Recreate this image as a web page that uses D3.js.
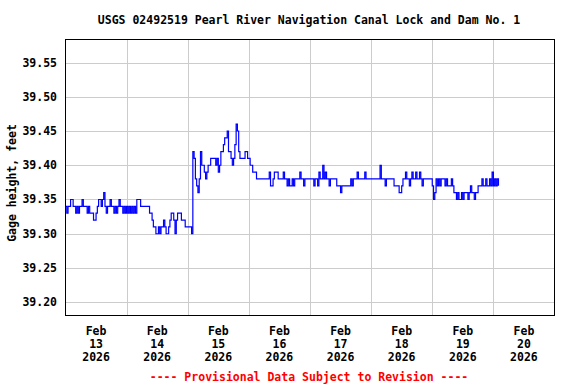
<!DOCTYPE html>
<html>
<head>
<meta charset="utf-8">
<script src="https://cdn.jsdelivr.net/npm/d3@7"></script>
<style>
  body { margin: 0; background: #fff; }
  text { font-family: "DejaVu Sans Mono", monospace; font-weight: bold; font-size: 11.5px; }
</style>
</head>
<body>
<script>
// half-hourly gage height readings (feet), starting Feb 13 2026 00:00
let feb13 = [39.34, 39.33, 39.34, 39.34, 39.35, 39.35, 39.34, 39.34, 39.33, 39.34, 39.33, 39.34,
             39.34, 39.35, 39.34, 39.34, 39.34, 39.33, 39.34, 39.33, 39.33, 39.33, 39.32, 39.32,
             39.33, 39.34, 39.35, 39.35, 39.34, 39.35, 39.36, 39.34, 39.33, 39.34, 39.34, 39.35,
             39.34, 39.34, 39.33, 39.34, 39.33, 39.34, 39.35, 39.34, 39.34, 39.33, 39.34, 39.33];
let feb14 = [39.34, 39.33, 39.34, 39.33, 39.34, 39.33, 39.34, 39.33, 39.35, 39.35, 39.35, 39.34,
             39.34, 39.34, 39.34, 39.34, 39.34, 39.34, 39.33, 39.33, 39.32, 39.31, 39.31, 39.30,
             39.30, 39.31, 39.30, 39.31, 39.31, 39.32, 39.31, 39.30, 39.30, 39.31, 39.32, 39.33,
             39.33, 39.32, 39.30, 39.32, 39.33, 39.33, 39.33, 39.32, 39.32, 39.32, 39.31, 39.31];
let feb15 = [39.31, 39.31, 39.31, 39.30, 39.42, 39.41, 39.38, 39.37, 39.36, 39.38, 39.42, 39.40,
             39.40, 39.39, 39.38, 39.39, 39.40, 39.40, 39.41, 39.41, 39.41, 39.41, 39.40, 39.41,
             39.39, 39.40, 39.42, 39.42, 39.43, 39.44, 39.44, 39.45, 39.42, 39.42, 39.41, 39.40,
             39.41, 39.43, 39.46, 39.45, 39.42, 39.41, 39.41, 39.41, 39.41, 39.42, 39.42, 39.41];
let feb16 = [39.41, 39.40, 39.40, 39.39, 39.39, 39.39, 39.38, 39.38, 39.38, 39.38, 39.38, 39.38,
             39.38, 39.38, 39.38, 39.38, 39.39, 39.37, 39.37, 39.38, 39.39, 39.39, 39.39, 39.38,
             39.38, 39.38, 39.38, 39.39, 39.38, 39.38, 39.37, 39.38, 39.37, 39.37, 39.38, 39.37,
             39.38, 39.38, 39.38, 39.38, 39.39, 39.38, 39.38, 39.37, 39.38, 39.38, 39.38, 39.38];
let feb17 = [39.38, 39.38, 39.38, 39.37, 39.38, 39.38, 39.37, 39.39, 39.38, 39.38, 39.40, 39.38,
             39.39, 39.38, 39.38, 39.37, 39.38, 39.38, 39.38, 39.38, 39.38, 39.37, 39.37, 39.37,
             39.36, 39.37, 39.37, 39.37, 39.37, 39.37, 39.37, 39.37, 39.38, 39.37, 39.38, 39.38,
             39.38, 39.39, 39.38, 39.38, 39.38, 39.38, 39.38, 39.39, 39.38, 39.38, 39.38, 39.38];
let feb18 = [39.38, 39.38, 39.38, 39.38, 39.38, 39.38, 39.38, 39.40, 39.38, 39.38, 39.38, 39.37,
             39.38, 39.38, 39.38, 39.38, 39.38, 39.38, 39.37, 39.37, 39.37, 39.37, 39.36, 39.36,
             39.37, 39.38, 39.38, 39.39, 39.38, 39.38, 39.37, 39.38, 39.39, 39.38, 39.38, 39.39,
             39.38, 39.38, 39.39, 39.38, 39.37, 39.38, 39.38, 39.38, 39.38, 39.38, 39.38, 39.38];
let feb19 = [39.37, 39.35, 39.36, 39.38, 39.37, 39.38, 39.37, 39.38, 39.38, 39.38, 39.37, 39.38,
             39.37, 39.37, 39.37, 39.38, 39.37, 39.36, 39.36, 39.35, 39.36, 39.35, 39.35, 39.36,
             39.35, 39.36, 39.36, 39.36, 39.35, 39.36, 39.37, 39.36, 39.36, 39.35, 39.36, 39.36,
             39.37, 39.37, 39.37, 39.38, 39.37, 39.37, 39.38, 39.37, 39.37, 39.38, 39.37, 39.39];
let feb20 = [39.37, 39.38, 39.37, 39.38, 39.37];

let dayLabels = ['13', '14', '15', '16', '17', '18', '19', '20'];
let yTicks = [39.20, 39.25, 39.30, 39.35, 39.40, 39.45, 39.50, 39.55];

let width = 576;
let height = 384;
let plotLeft = 65.5, plotRight = 554.5, plotTop = 39.5, plotBottom = 315.5;

let start = Date.UTC(2026, 1, 13);
let hour = 3600 * 1000;
let step = hour / 2;
let values = [].concat(feb13, feb14, feb15, feb16, feb17, feb18, feb19, feb20);
let data = values.map((v, i) => ({t: new Date(start + i * step), v: v}));

let svg = d3.select('body').append('svg')
    .attr('width', width)
    .attr('height', height);

let x = d3.scaleUtc()
    .domain([new Date(start), new Date(start + 8 * 24 * hour)])
    .range([plotLeft, plotRight]);
let y = d3.scaleLinear()
    .domain([39.1806, 39.5836])
    .range([plotBottom, plotTop]);

// grid
let days = d3.range(1, 8).map(d => new Date(start + d * 24 * hour));
svg.selectAll('.vgrid')
    .data(days)
    .join('line')
    .attr('x1', d => Math.round(x(d)) + 0.5)
    .attr('x2', d => Math.round(x(d)) + 0.5)
    .attr('y1', plotTop)
    .attr('y2', plotBottom)
    .attr('stroke', '#cccccc');

svg.selectAll('.hgrid')
    .data(yTicks)
    .join('line')
    .attr('x1', plotLeft)
    .attr('x2', plotRight)
    .attr('y1', d => Math.round(y(d)) + 0.5)
    .attr('y2', d => Math.round(y(d)) + 0.5)
    .attr('stroke', '#cccccc');

// y tick labels
svg.selectAll('.ylab')
    .data(yTicks)
    .join('text')
    .attr('x', 57)
    .attr('y', d => y(d) + 4)
    .attr('text-anchor', 'end')
    .text(d => d.toFixed(2));

// x labels, centred under each day
let labelG = svg.selectAll('.xlab')
    .data(dayLabels)
    .join('text')
    .attr('text-anchor', 'middle')
    .attr('transform', (d, i) => `translate(${x(new Date(start + (i + 0.5) * 24 * hour))},0)`);
labelG.append('tspan').attr('x', 0).attr('y', 335).text('Feb');
labelG.append('tspan').attr('x', 0).attr('y', 348).text(d => d);
labelG.append('tspan').attr('x', 0).attr('y', 361).text('2026');

// data line
let line = d3.line()
    .x(d => x(d.t))
    .y(d => y(d.v))
    .curve(d3.curveStepAfter);

svg.append('defs').append('clipPath').attr('id', 'clip')
    .append('rect').attr('x', plotLeft).attr('y', plotTop)
    .attr('width', plotRight - plotLeft).attr('height', plotBottom - plotTop);

svg.append('path')
    .datum(data)
    .attr('d', line)
    .attr('fill', 'none')
    .attr('stroke', '#0000ff')
    .attr('stroke-width', 1.2)
    .attr('clip-path', 'url(#clip)');

// frame
svg.append('rect')
    .attr('x', plotLeft)
    .attr('y', plotTop)
    .attr('width', plotRight - plotLeft)
    .attr('height', plotBottom - plotTop)
    .attr('fill', 'none')
    .attr('stroke', 'black');

svg.append('text')
    .attr('x', 309)
    .attr('y', 24)
    .attr('text-anchor', 'middle')
    .text('USGS 02492519 Pearl River Navigation Canal Lock and Dam No. 1');

svg.append('text')
    .attr('transform', 'translate(16,183) rotate(-90)')
    .attr('text-anchor', 'middle')
    .text('Gage height, feet');

svg.append('text')
    .attr('x', 309)
    .attr('y', 381)
    .attr('text-anchor', 'middle')
    .attr('fill', 'red')
    .text('---- Provisional Data Subject to Revision ----');
</script>
</body>
</html>
